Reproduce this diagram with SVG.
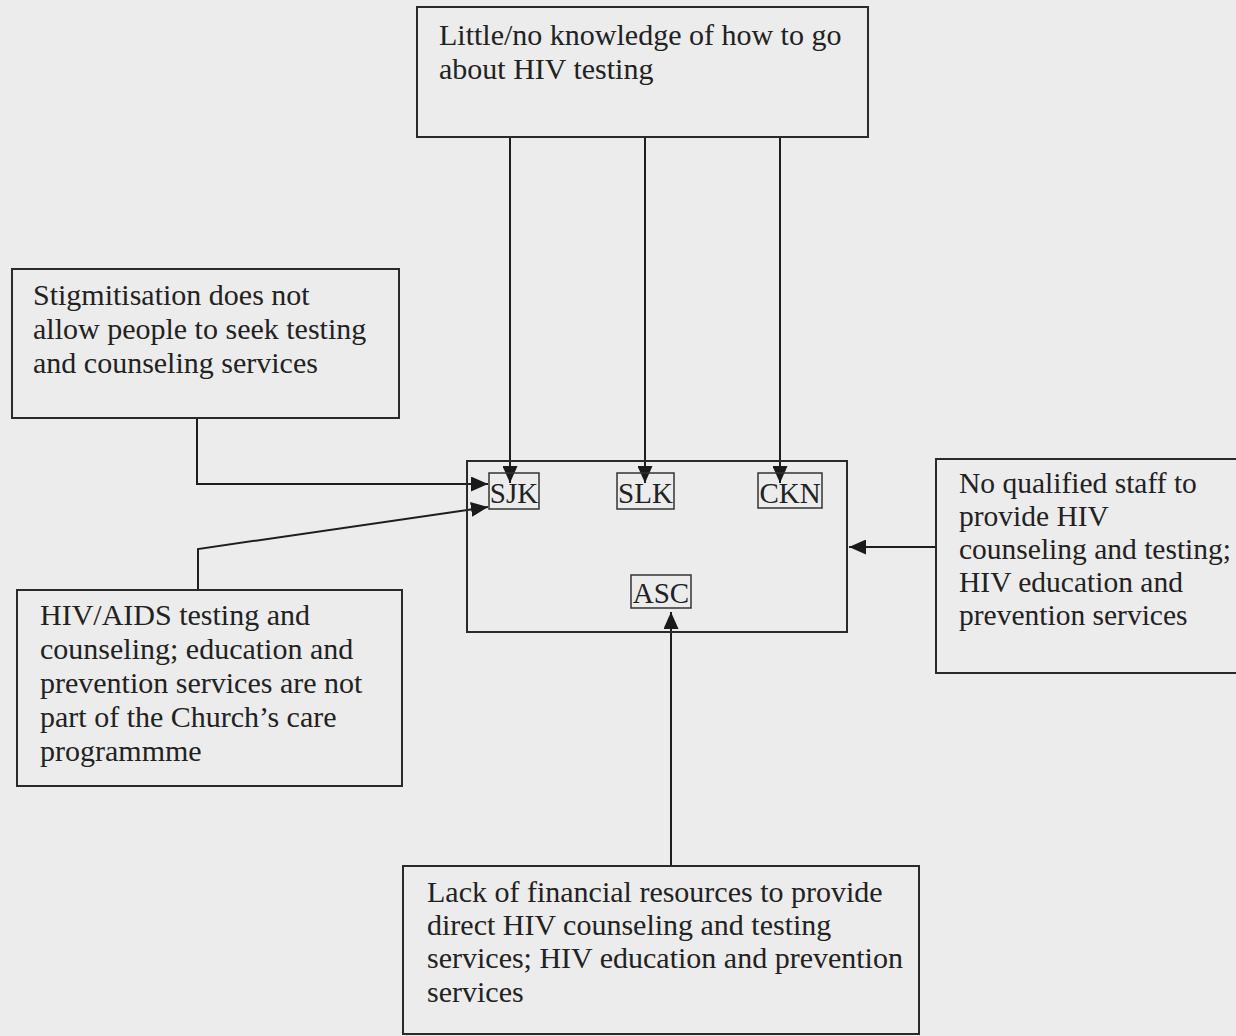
<svg xmlns="http://www.w3.org/2000/svg" width="1236" height="1036" viewBox="0 0 1236 1036">
<defs>
<marker id="ah" viewBox="0 0 17 15" refX="17" refY="7.5" markerWidth="17" markerHeight="15" markerUnits="userSpaceOnUse" orient="auto">
<path d="M0,0 L17,7.5 L0,15 Z" fill="#1a1a1a"/>
</marker>
<style>
.box{fill:none;stroke:#2a2a2a;stroke-width:2}
.sbox{fill:none;stroke:#333;stroke-width:1.5}
.t{font-family:"Liberation Serif","Times New Roman",serif;font-size:30px;fill:#222}
.lab{font-family:"Liberation Serif","Times New Roman",serif;font-size:29px;fill:#222}
.tr{font-family:"Liberation Serif","Times New Roman",serif;font-size:29.5px;fill:#222}
.c{fill:none;stroke:#1e1e1e;stroke-width:2;marker-end:url(#ah)}
</style>
</defs>
<rect x="0" y="0" width="1236" height="1036" fill="#ececec"/>
<g id="connectors">
<path class="c" d="M510,137 V483"/>
<path class="c" d="M645,137 V483"/>
<path class="c" d="M780,137 V483"/>
<path class="c" d="M197,418 V484 H488"/>
<path class="c" d="M198,590 V549 L488,507"/>
<path class="c" d="M936,547 H849"/>
<path class="c" d="M671,866 V612"/>
</g>
<g id="node-knowledge">
<rect class="box" x="417" y="7" width="451" height="130"/>
<text class="t" x="439" y="45">Little/no knowledge of how to go</text>
<text class="t" x="439" y="79">about HIV testing</text>
</g>
<g id="node-stigma">
<rect class="box" x="12" y="269" width="387" height="149"/>
<text class="t" x="33" y="305">Stigmitisation does not</text>
<text class="t" x="33" y="339">allow people to seek testing</text>
<text class="t" x="33" y="373">and counseling services</text>
</g>
<g id="node-programme">
<rect class="box" x="17" y="590" width="385" height="196"/>
<text class="t" x="40" y="625">HIV/AIDS testing and</text>
<text class="t" x="40" y="659">counseling; education and</text>
<text class="t" x="40" y="693">prevention services are not</text>
<text class="t" x="40" y="727">part of the Church’s care</text>
<text class="t" x="40" y="761">programmme</text>
</g>
<g id="node-churches">
<rect class="box" x="467" y="461" width="380" height="171"/>
<g id="node-sjk"><rect class="sbox" x="489" y="473" width="50" height="36"/><text class="lab" x="514" y="503" text-anchor="middle">SJK</text></g>
<g id="node-slk"><rect class="sbox" x="617" y="473" width="57" height="36"/><text class="lab" x="645.5" y="503" text-anchor="middle">SLK</text></g>
<g id="node-ckn"><rect class="sbox" x="758" y="473" width="64" height="35"/><text class="lab" x="790" y="503" text-anchor="middle">CKN</text></g>
<g id="node-asc"><rect class="sbox" x="631" y="575" width="60" height="33"/><text class="lab" x="661" y="603" text-anchor="middle">ASC</text></g>
</g>
<g id="node-staff">
<path class="box" d="M1236,459 H936 V673 H1236"/>
<text class="tr" x="959" y="493">No qualified staff to</text>
<text class="tr" x="959" y="526">provide HIV</text>
<text class="tr" x="959" y="559">counseling and testing;</text>
<text class="tr" x="959" y="592">HIV education and</text>
<text class="tr" x="959" y="625">prevention services</text>
</g>
<g id="node-finance">
<rect class="box" x="403" y="866" width="516" height="168"/>
<text class="t" x="427" y="902">Lack of financial resources to provide</text>
<text class="t" x="427" y="935">direct HIV counseling and testing</text>
<text class="t" x="427" y="968">services; HIV education and prevention</text>
<text class="t" x="427" y="1002">services</text>
</g>
</svg>
